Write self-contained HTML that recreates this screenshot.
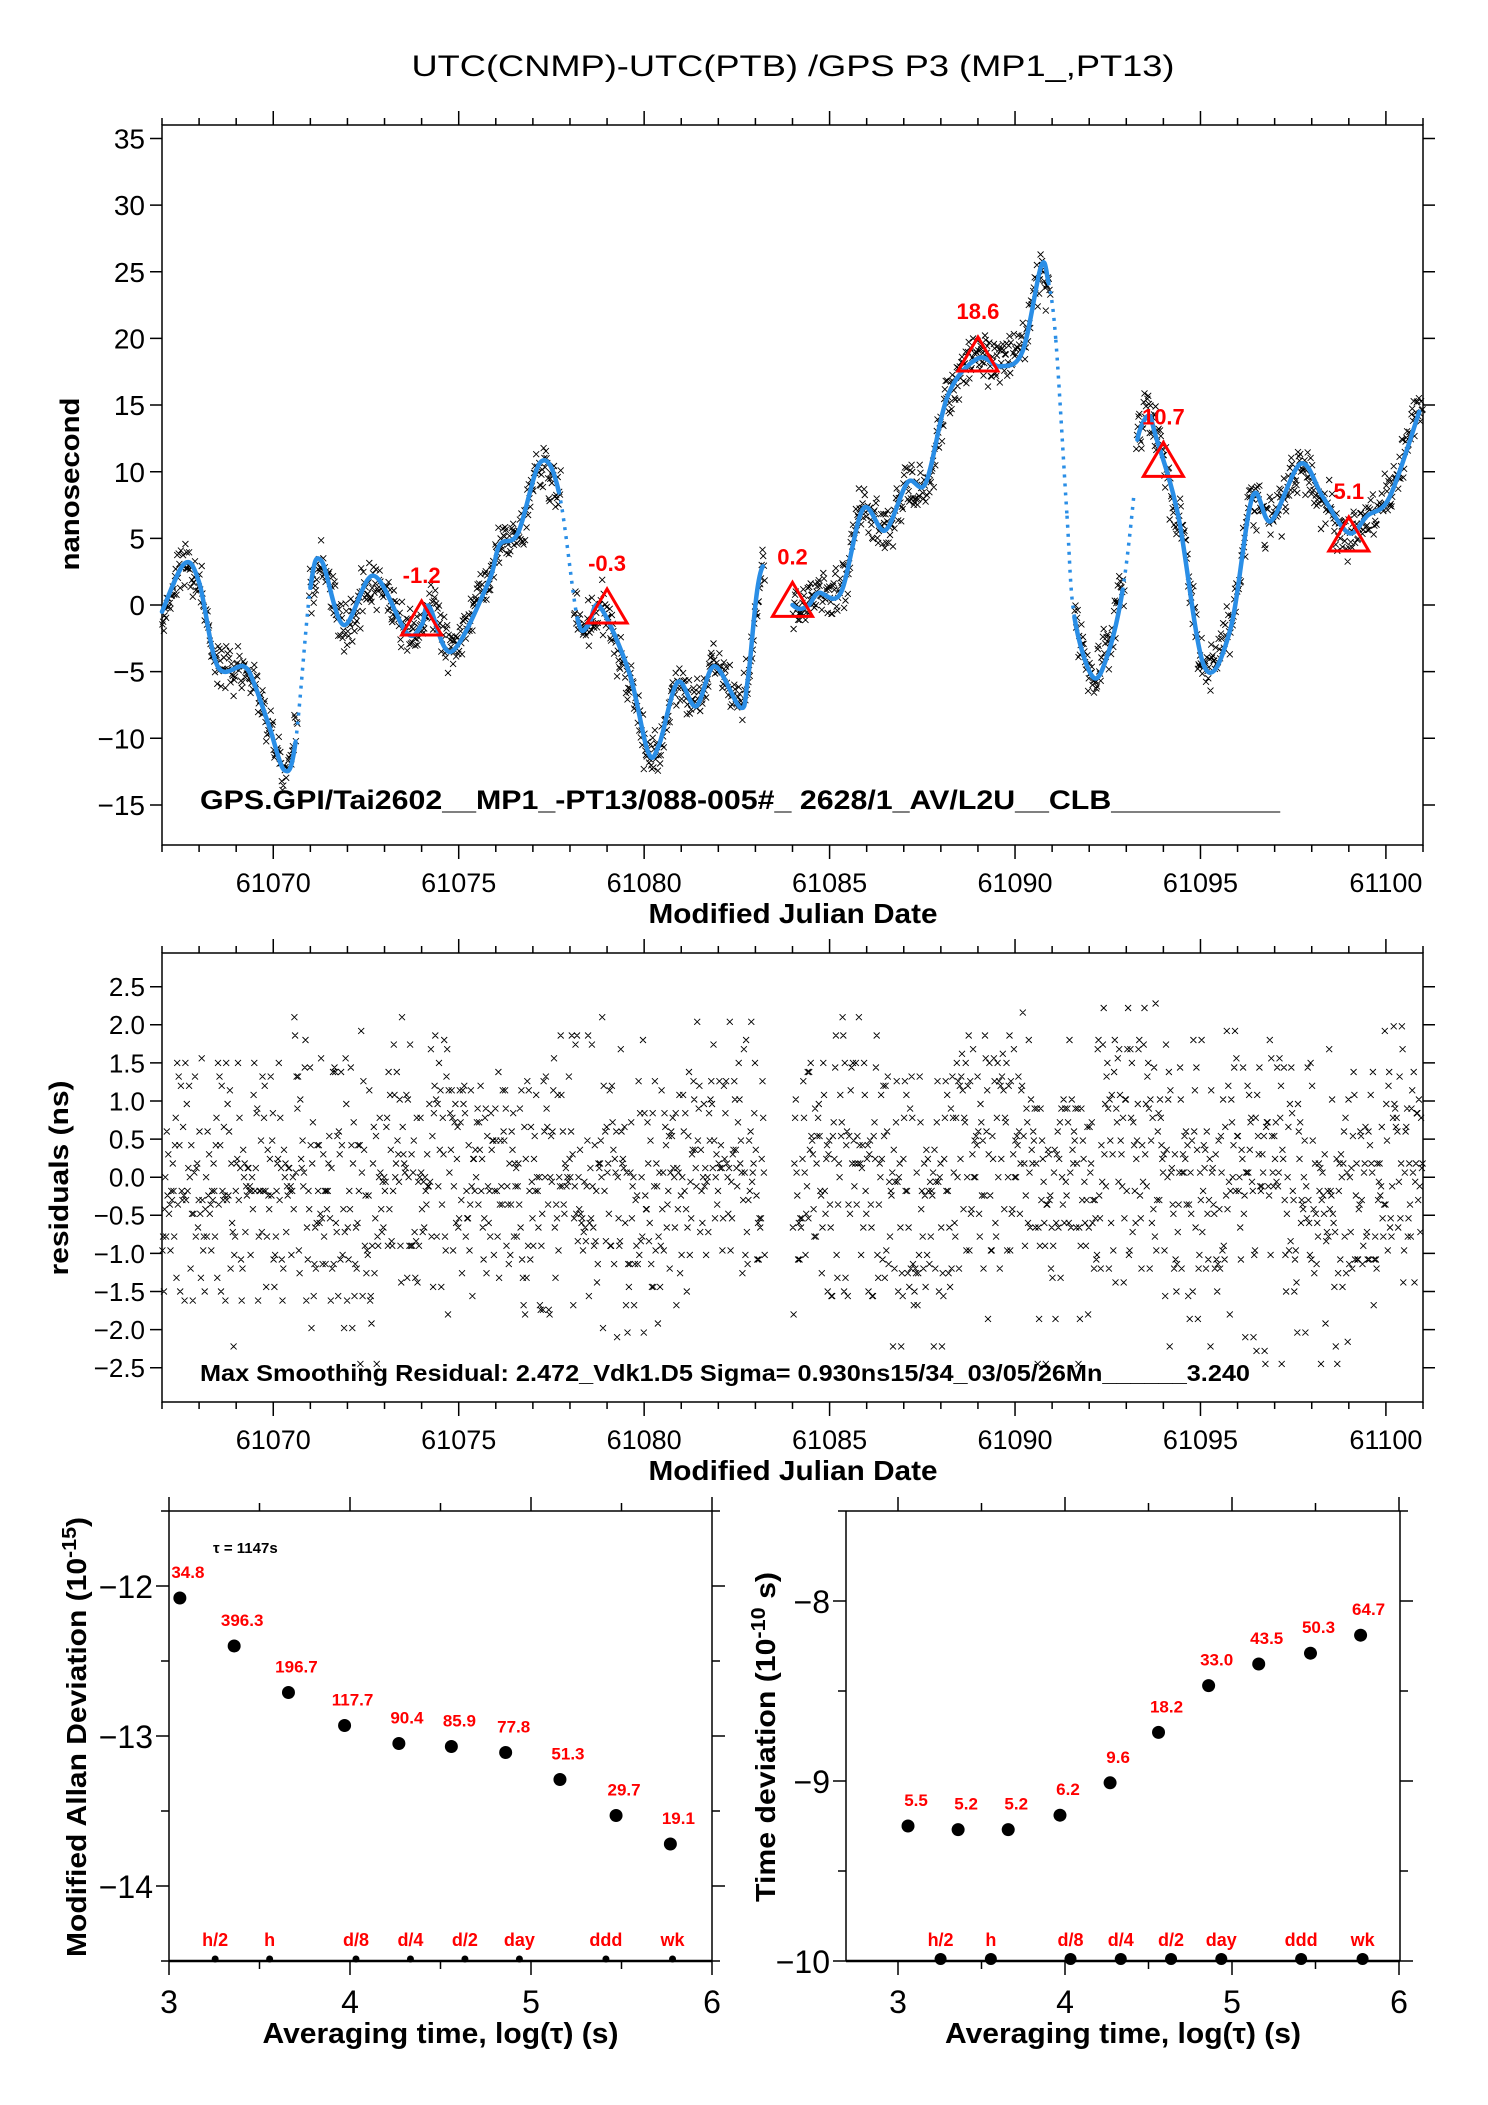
<!DOCTYPE html>
<html><head><meta charset="utf-8"><style>
html,body{margin:0;padding:0;background:#fff}
svg{display:block}
text{font-family:"Liberation Sans","DejaVu Sans",sans-serif}
</style></head><body>
<svg id="chart" width="1488" height="2105" viewBox="0 0 1488 2105" xmlns="http://www.w3.org/2000/svg">
<rect x="0" y="0" width="1488" height="2105" fill="#fff"/>
<text x="793" y="76" font-size="30" text-anchor="middle" textLength="763" lengthAdjust="spacingAndGlyphs">UTC(CNMP)-UTC(PTB)  /GPS  P3  (MP1_,PT13)</text>
<g id="topPlot"></g>
<g id="midPlot"></g>
<g id="blPlot"></g>
<g id="brPlot"></g>
</svg>
<script>
// ---- data ----
const curveMjd = [61067.0,61067.6,61068.0,61068.5,61069.2,61069.5,61069.9,61070.3,61070.6,61071.0,61071.3,61071.9,61072.7,61073.6,61074.0,61074.2,61074.8,61075.8,61076.1,61076.6,61077.2,61077.7,61078.2,61078.5,61078.8,61079.6,61080.1,61080.4,61080.9,61081.4,61081.9,61082.6,61082.8,61083.2,61084.0,61084.4,61084.7,61085.3,61085.9,61086.5,61087.1,61087.6,61088.2,61089.0,61089.6,61090.2,61090.7,61090.9,61091.1,61091.4,61091.6,61092.1,61092.5,61092.9,61093.2,61093.3,61093.6,61093.8,61094.4,61095.1,61095.8,61096.4,61096.9,61097.7,61098.3,61099.0,61099.5,61100.1,61100.9];
const curveVal = [-0.5,3.1,1.7,-4.6,-4.6,-6.0,-9.2,-12.4,-10.3,1.3,3.3,-1.5,2.2,-2.1,-1.5,-0.1,-3.5,1.7,4.5,5.4,10.7,8.5,-1.0,-1.5,-0.1,-5.1,-11.0,-10.5,-5.8,-7.6,-4.6,-7.7,-5.5,2.9,0.0,-0.1,0.9,0.9,7.2,5.6,9.2,9.2,15.8,18.5,17.9,19.0,25.4,24.2,19.9,6.7,-0.9,-5.4,-3.7,1.1,8.1,12.4,14.2,12.6,6.7,-4.6,-1.9,8.1,6.3,10.6,8.1,5.4,6.7,8.1,14.5];
const dottedRanges = [[61070.6,61071.0],[61077.7,61078.2],[61090.9,61091.6],[61092.9,61093.2]];
const noLineRanges = [[61083.2,61084.0],[61093.2,61093.3]];
const scatterGaps = [[61070.65,61070.95],[61077.75,61078.1],[61083.25,61084.0],[61090.95,61091.6],[61092.95,61093.25]];
const residualGaps = [[61083.25,61084.0]];
const residuals = [0.3,-1.2,0.8,1.5,-0.4,-1.9,0.1,0.9,-0.7,1.2,-1.4,0.5,-0.2,1.8,-1.0,0.6,-0.9,0.2,1.1,-1.6,0.4,-0.3,2.1,-0.8,0.7,-1.3,0.0,1.4,-0.5,-2.1,0.9,0.3,-1.1,1.6,-0.6,0.1,-1.7,1.0,0.5,-0.1,-0.9,1.3,-2.3,0.6,0.8,-0.4,1.9,-1.2,0.2,-0.7,1.1,-1.5,0.4,0.0,-1.0,2.2,-0.3,0.7,-1.8,0.9,-0.2,1.5,-0.6,0.3,-1.4,1.2,-0.8,0.5,-2.0,1.7,0.1,-0.5,0.8,-1.1,0.6,-0.1,1.0,-1.6,0.2,1.4,-0.9,-0.3,2.0,-1.3,0.7,-0.7,0.4,-1.9,1.1,0.0,-0.4,1.6,-1.2,0.3,-0.6,0.9,-2.2,1.3,-0.2,0.5,-1.0,1.8,-0.8,0.6,-1.5,0.2,1.2,-0.1,-1.7,0.8];
const sampleStepDays = 0.02;
const markerMjd = [61074,61079,61084,61089,61094,61099];
const markerVal = [-1.2,-0.3,0.2,18.6,10.7,5.1];
const mjdTicks = [61070,61075,61080,61085,61090,61095,61100];
const topYTicks = [35,30,25,20,15,10,5,0,-5,-10,-15];
const midYTicks = [2.5,2.0,1.5,1.0,0.5,0.0,-0.5,-1.0,-1.5,-2.0,-2.5];
const logTau = [3.06,3.36,3.66,3.97,4.27,4.56,4.86,5.16,5.47,5.77];
const madevVal = [-12.08,-12.40,-12.71,-12.93,-13.05,-13.07,-13.11,-13.29,-13.53,-13.72];
const madevLabels = ["34.8","396.3","196.7","117.7","90.4","85.9","77.8","51.3","29.7","19.1"];
const tdevVal = [-9.25,-9.27,-9.27,-9.19,-9.01,-8.73,-8.47,-8.35,-8.29,-8.19];
const tdevLabels = ["5.5","5.2","5.2","6.2","9.6","18.2","33.0","43.5","50.3","64.7"];
const periodNames = ["h/2","h","d/8","d/4","d/2","day","ddd","wk"];
const periodLog = [3.255,3.556,4.033,4.334,4.635,4.936,5.414,5.782];
const madevTicks = [-12,-13,-14];
const tdevTicks = [-8,-9,-10];
const logTicks = [3,4,5,6];

// ---- helpers ----
const NS = "http://www.w3.org/2000/svg";
function mk(parent, tag, attrs, txt){
  const e = document.createElementNS(NS, tag);
  for (const k in attrs) e.setAttribute(k, attrs[k]);
  if (txt !== undefined) e.textContent = txt;
  parent.appendChild(e); return e;
}
function inR(t, ranges){ return ranges.some(r => t >= r[0] && t <= r[1]); }
function curveAt(t){
  for (let i=0;i<curveMjd.length-1;i++){
    if (t>=curveMjd[i] && t<=curveMjd[i+1]){
      const f=(t-curveMjd[i])/(curveMjd[i+1]-curveMjd[i]);
      const s=f*f*(3-2*f);
      return curveVal[i]+s*(curveVal[i+1]-curveVal[i]);
    }
  }
  return curveVal[curveVal.length-1];
}
const xM = t => 162 + (t-61067)*(1423-162)/34;
const yTop = v => 605 - 13.33*v;
const yMid = v => 1177.2 - 76.2*v;
function residualAt(i){
  const n=residuals.length;
  const a=residuals[(i*i*7 + i*3 + Math.floor(i/97)*29) % n];
  const b=residuals[(i*i*11 + i*19 + Math.floor(i/89)*17 + 5) % n];
  return Math.max(-2.45, Math.min(2.45, 0.6*(a+b)));
}

function mjdAxis(g, tY, bY, labelY, titleY){
  mk(g,'rect',{x:162,y:tY,width:1261,height:bY-tY,fill:'none',stroke:'#000','stroke-width':1.5});
  let d='';
  for (let t=61067;t<=61101;t++){
    const x=xM(t), L=(t%5===0)?14:7;
    d+=`M${x} ${tY}v${-L}M${x} ${bY}v${L}`;
  }
  const tk=mk(g,'path',{d,stroke:'#000','stroke-width':1.5,fill:'none'});
  
  
  mjdTicks.forEach(t=>{
    const e=mk(g,'text',{x:xM(t),y:labelY,'font-size':27,'text-anchor':'middle'},String(t));
    
    
  });
  const xl=mk(g,'text',{x:793,y:titleY,'font-size':28,'font-weight':'bold','text-anchor':'middle',textLength:289,lengthAdjust:'spacingAndGlyphs'},'Modified Julian Date');
  
  
}
function yAxis(g, ticks, yf, fmt, x0, x1, fs){
  let d='';
  ticks.forEach(v=>{ const y=yf(v); d+=`M${x0} ${y}h-12M${x1} ${y}h12`; });
  const tk=mk(g,'path',{d,stroke:'#000','stroke-width':1.5});
  
  
  ticks.forEach(v=>{
    const e=mk(g,'text',{x:x0-17,y:yf(v)+fs*0.36,'font-size':fs,'text-anchor':'end'},fmt(v));
    
    
  });
}
const minus = s => s.replace('-', '\u2212');

// ---- top plot ----
const gTop = document.getElementById('topPlot');
mjdAxis(gTop,125,845,892,923);
yAxis(gTop,topYTicks,yTop,v=>minus(String(v)),162,1423,28);
let yl=mk(gTop,'text',{transform:'translate(79,484) rotate(-90)','font-size':27,'font-weight':'bold','text-anchor':'middle',textLength:173,lengthAdjust:'spacingAndGlyphs'},'nanosecond');


let sd='', rd='', idx=0;
for (let t=61067.01;t<61101;t+=sampleStepDays, idx++){
  const r=residualAt(idx);
  const x=xM(t);
  if (!inR(t,scatterGaps)){
    const y=yTop(curveAt(t)+r);
    sd+=`M${(x-3).toFixed(1)} ${(y-3).toFixed(1)}l6 6m0 -6l-6 6`;
  }
  if (!inR(t,residualGaps)){
    const ym=yMid(r);
    rd+=`M${(x-3).toFixed(1)} ${(ym-3).toFixed(1)}l6 6m0 -6l-6 6`;
  }
}
let sp=mk(gTop,'path',{d:sd,stroke:'#000','stroke-width':0.9,fill:'none'});


let solid='', dotted='';
const P = i => [xM(curveMjd[i]), yTop(curveVal[i])];
for (let i=0;i<curveMjd.length-1;i++){
  const m=(curveMjd[i]+curveMjd[i+1])/2;
  if (inR(m,noLineRanges)) continue;
  const p0=P(Math.max(0,i-1)), p1=P(i), p2=P(i+1), p3=P(Math.min(curveMjd.length-1,i+2));
  const c1=[p1[0]+(p2[0]-p0[0])/6, p1[1]+(p2[1]-p0[1])/6];
  const c2=[p2[0]-(p3[0]-p1[0])/6, p2[1]-(p3[1]-p1[1])/6];
  const seg=`M${p1[0].toFixed(1)} ${p1[1].toFixed(1)}C${c1[0].toFixed(1)} ${c1[1].toFixed(1)} ${c2[0].toFixed(1)} ${c2[1].toFixed(1)} ${p2[0].toFixed(1)} ${p2[1].toFixed(1)}`;
  if (inR(m,dottedRanges)) dotted+=seg; else solid+=seg;
}
let sl=mk(gTop,'path',{d:solid,stroke:'#2a8ee6','stroke-width':4.5,fill:'none','stroke-linejoin':'round','stroke-linecap':'round'});


let dl=mk(gTop,'path',{d:dotted,stroke:'#2a8ee6','stroke-width':3.5,fill:'none','stroke-dasharray':'3 6'});


markerMjd.forEach((t,i)=>{
  const x=xM(t), y=yTop(markerVal[i]);
  const tri=mk(gTop,'path',{d:`M${x} ${y-20}L${x+20} ${y+14}L${x-20} ${y+14}Z`,fill:'none',stroke:'#f00','stroke-width':3});
  
  
  const lb=mk(gTop,'text',{x:x,y:y-38,'font-size':22,'font-weight':'bold',fill:'#f00','text-anchor':'middle'},markerVal[i].toFixed(1));
  
  
});
let an=mk(gTop,'text',{x:200,y:809,'font-size':27,'font-weight':'bold',textLength:1080,lengthAdjust:'spacingAndGlyphs'},'GPS.GPI/Tai2602__MP1_-PT13/088-005#_  2628/1_AV/L2U__CLB__________');



// ---- middle plot ----
const gMid = document.getElementById('midPlot');
mjdAxis(gMid,953,1402,1449,1480);
yAxis(gMid,midYTicks,yMid,v=>minus(v.toFixed(1)),162,1423,26);
yl=mk(gMid,'text',{transform:'translate(68,1178) rotate(-90)','font-size':27,'font-weight':'bold','text-anchor':'middle',textLength:195,lengthAdjust:'spacingAndGlyphs'},'residuals (ns)');


let rp=mk(gMid,'path',{d:rd,stroke:'#000','stroke-width':0.9,fill:'none'});


an=mk(gMid,'text',{x:200,y:1381,'font-size':23,'font-weight':'bold',textLength:1050,lengthAdjust:'spacingAndGlyphs'},'Max Smoothing Residual: 2.472_Vdk1.D5  Sigma= 0.930ns15/34_03/05/26Mn______3.240');



// ---- stability plots ----
function stabPlot(g, L, R, x3, x6, yf, ticks, vals, labels, dotR, markR, minorVals, ytitle, ytx, ttl){
  const xf = l => x3 + (l-3)*(x6-x3)/3;
  const T=1511, B=1961;
  mk(g,'path',{d:`M${L} ${T}H${R}M${L} ${T}V${B}M${R} ${T}V${B}`,stroke:'#000','stroke-width':1.5,fill:'none'});
  mk(g,'path',{d:`M${L} ${B}H${R}`,stroke:'#000','stroke-width':2.5});
  let d='';
  for (let l=3;l<=6.001;l+=0.5){
    const x=xf(l), len=(Math.abs(l-Math.round(l))<0.01)?14:8;
    d+=`M${x} ${T}v${-len}M${x} ${B}v${len}`;
  }
  ticks.forEach(v=>{ const y=yf(v); d+=`M${L} ${y}h-13M${R} ${y}h13`; });
  minorVals.forEach(v=>{ const y=yf(v); d+=`M${L} ${y}h-8M${R} ${y}h8`; });
  const tk=mk(g,'path',{d,stroke:'#000','stroke-width':1.5});
  
  
  logTicks.forEach(l=>{
    const e=mk(g,'text',{x:xf(l),y:2013,'font-size':32,'text-anchor':'middle'},String(l));
    
    
  });
  ticks.forEach(v=>{
    const e=mk(g,'text',{x:L-16,y:yf(v)+12,'font-size':32,'text-anchor':'end'},minus(String(v)));
    
    
  });
  const xl=mk(g,'text',{x:(L+R)/2,y:2043,'font-size':29,'font-weight':'bold','text-anchor':'middle',textLength:356,lengthAdjust:'spacingAndGlyphs'},'Averaging time, log(\u03C4) (s)');
  
  
  const yt=mk(g,'text',{transform:`translate(${ytx},1737) rotate(-90)`,'font-size':28,'font-weight':'bold','text-anchor':'middle',textLength:ttl,lengthAdjust:'spacingAndGlyphs'});
  
  
  yt.innerHTML = ytitle;
  logTau.forEach((l,i)=>{
    const x=xf(l), y=yf(vals[i]);
    const c=mk(g,'circle',{cx:x,cy:y,r:dotR,fill:'#000'});
    
    
    const t=mk(g,'text',{x:x+8,y:y-20,'font-size':17,'font-weight':'bold',fill:'#f00','text-anchor':'middle'},labels[i]);
    
    
  });
  periodLog.forEach((l,i)=>{
    const x=xf(l);
    const c=mk(g,'circle',{cx:x,cy:B-2,r:markR,fill:'#000'});
    
    
    const t=mk(g,'text',{x:x,y:1946,'font-size':18,'font-weight':'bold',fill:'#f00','text-anchor':'middle'},periodNames[i]);
    
    
  });
}
const gBL=document.getElementById('blPlot');
stabPlot(gBL,169,712,169,712,v=>1586-150*(v+12),madevTicks,madevVal,madevLabels,6.5,3.5,[-11.5,-12.5,-13.5,-14.5],
  'Modified Allan Deviation (10<tspan dy="-10" font-size="20">-15</tspan><tspan dy="10">)</tspan>',86,440);
const tauNote=mk(gBL,'text',{x:213,y:1553,'font-size':15,'font-weight':'bold'},'\u03C4 = 1147s');


const gBR=document.getElementById('brPlot');
stabPlot(gBR,846,1400,898,1399,v=>1961-180*(v+10),tdevTicks,tdevVal,tdevLabels,6.5,6,[-7.5,-8.5,-9.5],
  'Time deviation (10<tspan dy="-10" font-size="20">-10</tspan><tspan dy="10"> s)</tspan>',775,330);
</script>
</body></html>
